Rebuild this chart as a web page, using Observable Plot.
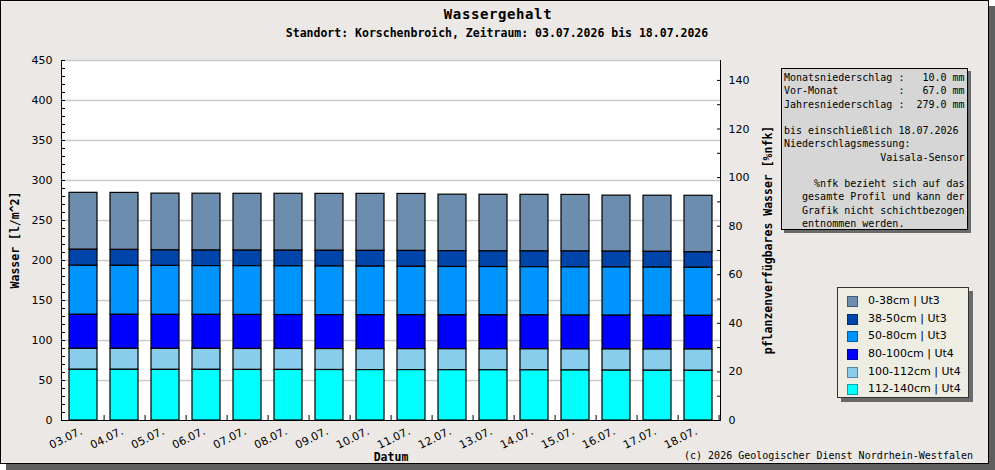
<!DOCTYPE html>
<html>
<head>
<meta charset="utf-8">
<script src="https://cdn.jsdelivr.net/npm/d3@7"></script>
<script src="https://cdn.jsdelivr.net/npm/@observablehq/plot@0.6"></script>
<style>
  html, body { margin: 0; padding: 0; background: #ffffff; width: 995px; height: 470px; overflow: hidden; }
  #page { position: relative; width: 995px; height: 470px; overflow: hidden; }
  #chart {
    position: absolute; left: 0; top: 0; width: 989px; height: 464px; box-sizing: border-box;
    border: 1px solid #000; background: #ebe8e6;
    box-shadow: 6px 6px 0 #5f5f5f;
  }
  #chart svg { position: absolute; left: -1px; top: -1px; max-width: none !important; }
  .mono { font-family: "DejaVu Sans Mono", monospace; color: #000; position: absolute; white-space: pre; }
  .title { font-size: 14px; font-weight: bold; letter-spacing: 0.6px; }
  .sub { font-size: 11.5px; font-weight: bold; }
  .axt { font-size: 11.5px; font-weight: bold; }
  .center { transform: translate(-50%, -50%); }
  .vert { transform: translate(-50%, -50%) rotate(-90deg); }
  #info {
    position: absolute; left: 780px; top: 67px; width: 187px; height: 162px; box-sizing: border-box;
    border: 1px solid #000; background: #d6d6d6; box-shadow: 3px 3px 0 #6a6a6a;
    font-family: "DejaVu Sans Mono", monospace; font-size: 10px; line-height: 13.27px;
    padding: 2px 0 0 2px; white-space: pre; color: #000;
  }
  #legend {
    position: absolute; left: 836px; top: 286px; width: 132px; height: 111px; box-sizing: border-box;
    border: 1px solid #333; background: #eeede3; box-shadow: 4px 4px 0 #6a6a6a;
    font-family: "DejaVu Sans", sans-serif; font-size: 11px; color: #000;
    padding-top: 4px;
  }
  #legend .row { position: relative; height: 17.7px; line-height: 17.7px; padding-left: 30px; white-space: nowrap; }
  #legend .sw { position: absolute; left: 9px; top: 4px; width: 9px; height: 9px; border: 1px solid rgba(0,0,0,0.35); }
</style>
</head>
<body>
<div id="page"><div id="chart"></div></div>
<script>
// Soil layers, top to bottom, with their fill colours
const layers = ["0-38cm | Ut3", "38-50cm | Ut3", "50-80cm | Ut3", "80-100cm | Ut4", "100-112cm | Ut4", "112-140cm | Ut4"];
const colors = ["#6c8dae", "#0046aa", "#0094ff", "#0000ff", "#88ceec", "#00ffff"];

// Measurement days
const dates = ["03.07.", "04.07.", "05.07.", "06.07.", "07.07.", "08.07.", "09.07.", "10.07.",
               "11.07.", "12.07.", "13.07.", "14.07.", "15.07.", "16.07.", "17.07.", "18.07."];

// Water content per layer [l/m^2]
const w0_38    = [71.2, 71.3, 71.0, 71.1, 71.1, 71.2, 71.2, 71.3, 71.3, 70.6, 70.8, 70.8, 70.8, 70.1, 70.2, 70.7];
const w38_50   = [20.0, 19.9, 19.4, 19.4, 19.4, 19.5, 19.6, 19.7, 19.8, 19.8, 19.6, 19.7, 19.8, 19.7, 19.7, 19.3];
const w50_80   = [61.3, 61.2, 61.2, 61.0, 61.0, 60.9, 60.8, 60.7, 60.5, 60.5, 60.4, 60.3, 60.3, 60.3, 60.2, 60.1];
const w80_100  = [42.5, 42.5, 42.5, 42.5, 42.5, 42.4, 42.4, 42.4, 42.4, 42.3, 42.3, 42.3, 42.2, 42.2, 42.2, 42.1];
const w100_112 = [26.2, 26.2, 26.2, 26.2, 26.2, 26.2, 26.2, 26.2, 26.2, 26.2, 26.3, 26.3, 26.4, 26.5, 26.5, 26.6];
const w112_140 = [63.4, 63.4, 63.3, 63.3, 63.2, 63.2, 63.1, 63.0, 63.0, 62.9, 62.8, 62.7, 62.5, 62.3, 62.2, 62.1];

// Axis ticks
const waterMax = 450;
const waterLabelTicks = [0, 50, 100, 150, 200, 250, 300, 350, 400, 450];
const waterMinorTicks = [0, 10, 20, 30, 40, 50, 60, 70, 80, 90, 100, 110, 120, 130, 140, 150, 160, 170, 180, 190, 200,
                         210, 220, 230, 240, 250, 260, 270, 280, 290, 300, 310, 320, 330, 340, 350, 360, 370, 380, 390,
                         400, 410, 420, 430, 440, 450];
const nfkMax = 148.2;
const nfkLabelTicks = [0, 20, 40, 60, 80, 100, 120, 140];
const nfkMinorTicks = [0, 10, 20, 30, 40, 50, 60, 70, 80, 90, 100, 110, 120, 130, 140];

const series = [w0_38, w38_50, w50_80, w80_100, w100_112, w112_140];
const rows = [];
dates.forEach((d, i) => layers.forEach((l, j) => rows.push({date: d, layer: l, value: series[j][i]})));

// %nfk values expressed on the l/m^2 scale for the right-hand axis
const nfkToY = v => v * waterMax / nfkMax;
const yToNfk = y => Math.round(y * nfkMax / waterMax);

const W = 995, H = 470, mL = 61, mR = 275, mT = 60, mB = 50;
const pIn = 0.32, pOut = 0.16;
const step = (W - mL - mR) / (dates.length - pIn + 2 * pOut);

const chart = Plot.plot({
  width: W, height: H,
  marginLeft: mL, marginRight: mR, marginTop: mT, marginBottom: mB,
  style: {background: "transparent", fontFamily: "DejaVu Sans", fontSize: "11px", color: "#000", overflow: "visible"},
  x: {domain: dates, paddingInner: pIn, paddingOuter: pOut, label: null},
  y: {domain: [0, waterMax], label: null},
  color: {domain: layers, range: colors},
  marks: [
    Plot.frame({fill: "white", stroke: "black"}),
    Plot.ruleY(waterLabelTicks.slice(1), {stroke: "#c9c9c9", strokeWidth: 1.4}),
    Plot.barY(rows, {x: "date", y: "value", fill: "layer", order: layers.slice().reverse(), stroke: "black", strokeWidth: 1.2}),
    Plot.ruleY([0], {stroke: "black"}),
    Plot.axisY(waterLabelTicks, {anchor: "left", tickSize: 0, tickPadding: 9, label: null}),
    Plot.axisY(waterMinorTicks, {anchor: "left", tickSize: 4, dx: 4, tickFormat: () => "", label: null}),
    Plot.axisY(nfkLabelTicks.map(nfkToY), {anchor: "right", tickSize: 0, tickPadding: 8, tickFormat: yToNfk, label: null}),
    Plot.axisY(nfkMinorTicks.map(nfkToY), {anchor: "right", tickSize: 4, dx: -4, tickFormat: () => "", label: null}),
    Plot.axisX({anchor: "bottom", tickSize: 0, tickPadding: 10, tickRotate: -26, dx: -2, label: null}),
    Plot.axisX(dates, {anchor: "bottom", tickSize: 5, dy: -5, dx: step / 2, tickFormat: () => "", label: null})
  ]
});

const root = document.getElementById("chart");
root.appendChild(chart);

function addText(cls, text, left, top) {
  const el = document.createElement("div");
  el.className = "mono " + cls;
  el.textContent = text;
  el.style.left = (left - 1) + "px";
  el.style.top = (top - 1) + "px";
  root.appendChild(el);
  return el;
}
addText("title center", "Wassergehalt", 498, 14);
addText("sub center", "Standort: Korschenbroich, Zeitraum: 03.07.2026 bis 18.07.2026", 497, 33);
addText("axt vert", "Wasser [l/m^2]", 15, 240);
addText("axt vert", "pflanzenverfügbares Wasser [%nfk]", 768, 240);
addText("axt center", "Datum", 391, 457);
const copy = addText("", "(c) 2026 Geologischer Dienst Nordrhein-Westfalen", 973, 455);
copy.style.fontSize = "10px";
copy.style.transform = "translate(-100%, -50%)";

// Precipitation info box
const infoLines = [
  "Monatsniederschlag :   10.0 mm",
  "Vor-Monat          :   67.0 mm",
  "Jahresniederschlag :  279.0 mm",
  "",
  "bis einschließlich 18.07.2026",
  "Niederschlagsmessung:",
  "                Vaisala-Sensor",
  "",
  "     %nfk bezieht sich auf das",
  "   gesamte Profil und kann der",
  "   Grafik nicht schichtbezogen",
  "   entnommen werden."
];
const info = document.createElement("div");
info.id = "info";
info.textContent = infoLines.join("\n");
root.appendChild(info);

// Layer legend
const legend = document.createElement("div");
legend.id = "legend";
layers.forEach((l, i) => {
  const row = document.createElement("div");
  row.className = "row";
  const sw = document.createElement("span");
  sw.className = "sw";
  sw.style.background = colors[i];
  row.appendChild(sw);
  row.appendChild(document.createTextNode(l));
  legend.appendChild(row);
});
root.appendChild(legend);
</script>
</body>
</html>
